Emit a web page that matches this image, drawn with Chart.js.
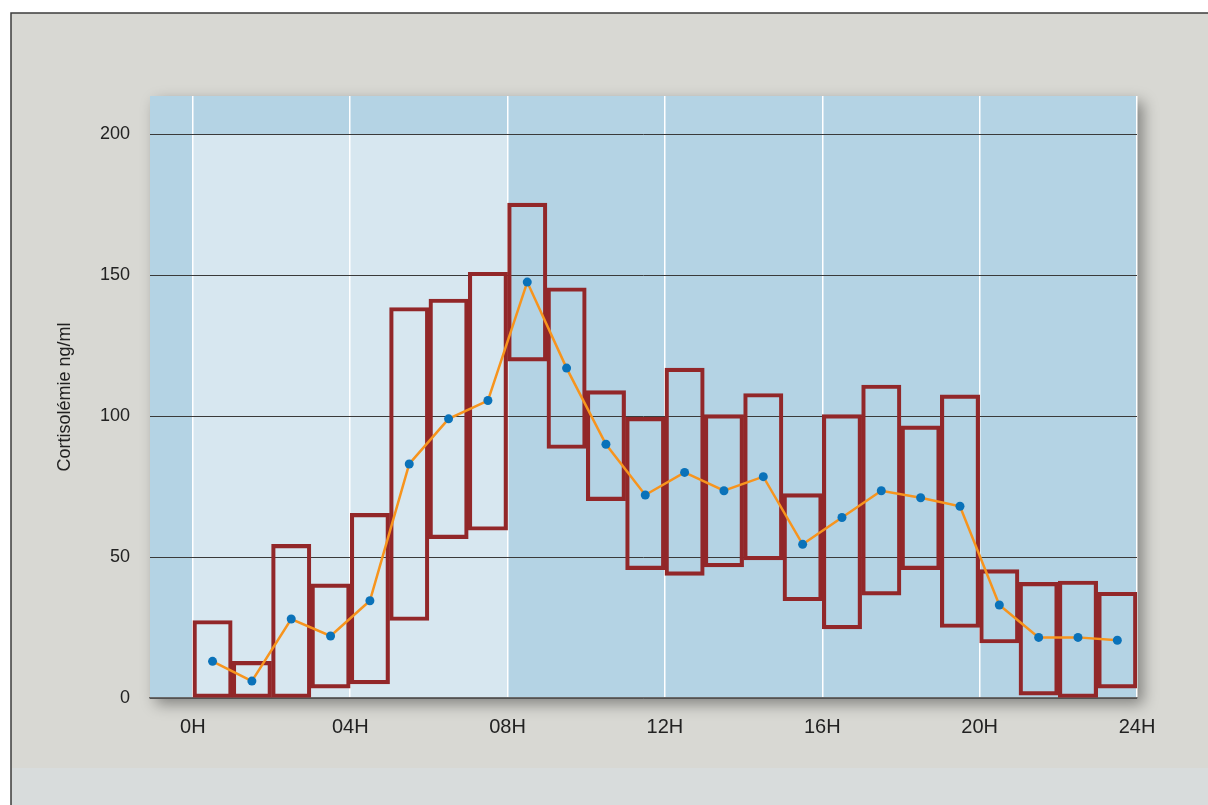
<!DOCTYPE html>
<html>
<head>
<meta charset="utf-8">
<script src="https://cdn.jsdelivr.net/npm/chart.js@4.4.1/dist/chart.umd.min.js"></script>
<style>
  body { margin: 0; background: #fff; }
  canvas { display: block; }
</style>
</head>
<body>
<canvas id="grafico" width="1208" height="805"></canvas>
<script>
// heures (milieu de chaque tranche horaire)
const heures = [0.5, 1.5, 2.5, 3.5, 4.5, 5.5, 6.5, 7.5, 8.5, 9.5, 10.5, 11.5,
  12.5, 13.5, 14.5, 15.5, 16.5, 17.5, 18.5, 19.5, 20.5, 21.5, 22.5, 23.5];
// bornes basses / hautes des rectangles
const minis = [0, 0, 0, 3.5, 5, 27.5, 56.5, 59.5, 119.5, 88.5, 70, 45.5,
  43.5, 46.5, 49, 34.5, 24.5, 36.5, 45.5, 25, 19.5, 1, 0, 3.5];
const maxis = [27.5, 13, 54.5, 40.5, 65.5, 138.5, 141.5, 151, 175.5, 145.5, 109, 99.5,
  117, 100.5, 108, 72.5, 100.5, 111, 96.5, 107.5, 45.5, 41, 41.5, 37.5];
// moyennes
const moyennes = [13, 6, 28, 22, 34.5, 83, 99, 105.5, 147.5, 117, 90, 72,
  80, 73.5, 78.5, 54.5, 64, 73.5, 71, 68, 33, 21.5, 21.5, 20.5];
const ticksX = [0, 4, 8, 12, 16, 20, 24];
const labelsX = ["0H", "04H", "08H", "12H", "16H", "20H", "24H"];
const ticksY = [0, 50, 100, 150, 200];

const fond = {
  id: 'fond',
  beforeDraw(chart) {
    const ctx = chart.ctx;
    const a = chart.chartArea;
    const x = chart.scales.x, y = chart.scales.y;
    ctx.save();
    ctx.fillStyle = '#ffffff';
    ctx.fillRect(0, 0, chart.width, chart.height);
    ctx.fillStyle = '#d8d8d3';
    ctx.fillRect(11, 13, chart.width, chart.height);
    ctx.fillStyle = '#d8dcdc';
    ctx.fillRect(12, 768, chart.width, chart.height - 768);
    ctx.strokeStyle = '#3c3c3c';
    ctx.lineWidth = 1.5;
    ctx.beginPath();
    ctx.moveTo(11, chart.height);
    ctx.lineTo(11, 13);
    ctx.lineTo(chart.width, 13);
    ctx.stroke();

    ctx.shadowColor = 'rgba(0,0,0,0.4)';
    ctx.shadowBlur = 14;
    ctx.shadowOffsetX = 6;
    ctx.shadowOffsetY = 6;
    ctx.fillStyle = '#b4d3e4';
    ctx.fillRect(a.left, a.top, a.right - a.left, a.bottom - a.top);
    ctx.shadowColor = 'transparent';
    ctx.fillStyle = '#d7e7f0';
    const x0 = x.getPixelForValue(0), x8 = x.getPixelForValue(8);
    const y200 = y.getPixelForValue(200);
    ctx.fillRect(x0, y200, x8 - x0, a.bottom - y200);
    ctx.restore();
  }
};

const ctx = document.getElementById('grafico').getContext('2d');
new Chart(ctx, {
  data: {
    datasets: [{
      type: 'line',
      order: 0,
      data: heures.map((h, i) => ({ x: h, y: moyennes[i] })),
      borderColor: '#f7941d',
      borderWidth: 2.5,
      pointRadius: 4.5,
      pointBackgroundColor: '#0a72b9',
      pointBorderWidth: 0,
      tension: 0
    }, {
      type: 'bar',
      order: 1,
      data: heures.map((h, i) => ({ x: h, y: [minis[i], maxis[i]] })),
      backgroundColor: 'transparent',
      borderColor: '#922729',
      borderWidth: 3.5,
      borderSkipped: false,
      barPercentage: 1,
      categoryPercentage: 1,
      grouped: false
    }]
  },
  plugins: [fond],
  options: {
    responsive: false,
    animation: false,
    layout: { padding: { left: 0, right: 71, top: 96, bottom: 0 } },
    plugins: { legend: { display: false }, tooltip: { enabled: false } },
    scales: {
      x: {
        type: 'linear',
        offset: false,
        min: -1.09,
        max: 24,
        afterBuildTicks: s => { s.ticks = ticksX.map(v => ({ value: v })); },
        afterFit: s => { s.height = 107; },
        ticks: {
          callback: v => labelsX[ticksX.indexOf(v)],
          color: '#222',
          font: { family: 'Liberation Sans, Arial, sans-serif', size: 20 },
          padding: 17,
          maxRotation: 0
        },
        grid: { offset: false, color: '#ffffff', lineWidth: 1.5, drawTicks: false },
        border: { display: true, color: '#6a6a6a', width: 1.5 }
      },
      y: {
        min: 0,
        max: 213.5,
        afterBuildTicks: s => { s.ticks = ticksY.map(v => ({ value: v })); },
        afterFit: s => { s.width = 150; },
        ticks: {
          color: '#222',
          font: { family: 'Liberation Sans, Arial, sans-serif', size: 18 },
          padding: 20
        },
        grid: { color: '#3a3a3a', lineWidth: 1, drawTicks: false },
        border: { display: false },
        title: {
          display: true,
          text: 'Cortisolémie ng/ml',
          color: '#222',
          font: { family: 'Liberation Sans, Arial, sans-serif', size: 18 },
          padding: { top: 54 }
        }
      }
    }
  }
});
</script>
</body>
</html>
